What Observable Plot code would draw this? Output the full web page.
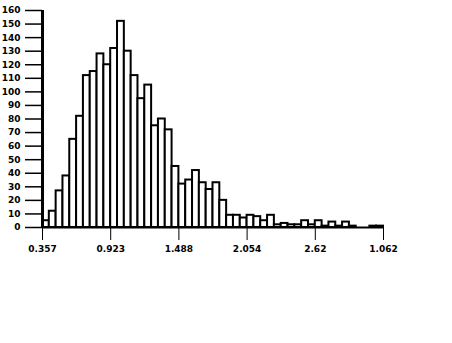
<!DOCTYPE html>
<html>
<head>
<meta charset="utf-8">
<script src="https://cdn.jsdelivr.net/npm/d3@7"></script>
<script src="https://cdn.jsdelivr.net/npm/@observablehq/plot@0.6"></script>
<style>
  html, body { margin: 0; padding: 0; background: #fff; }
  svg { display: block; }
</style>
</head>
<body>
<div id="chart"></div>
<script>
// Histogram bin counts (50 bins)
const counts = [5,12,27,38,65, 82,112,115,128,120, 132,152,130,112,95, 105,75,80,72,45,
                32,35,42,33,28, 33,20,9,9,7, 9,8,5,9,2, 3,2,2,5,2, 5,1,4,1,4, 1,0,0,1,1];
// X tick positions (bin index) and their labels as printed
const xTickBins = [0, 10, 20, 30, 40, 50];
const xTickLabels = ["0.357", "0.923", "1.488", "2.054", "2.62", "1.062"];
// Y ticks
const yTicks = [0,10,20,30,40,50,60,70,80,90,100,110,120,130,140,150,160];

const data = counts.map((c, i) => ({bin: i, count: c}));

const chart = Plot.plot({
  width: 452,
  height: 343,
  marginLeft: 42,
  marginRight: 69,
  marginTop: 10,
  marginBottom: 116,
  x: {domain: [0, 50], axis: null},
  y: {domain: [0, 160], axis: null},
  style: {fontFamily: "DejaVu Sans", fontSize: "9px", background: "white", color: "black"},
  marks: [
    Plot.rectY(data, {x1: "bin", x2: d => d.bin + 1, y: "count", fill: "white", stroke: "black", strokeWidth: 2}),
    Plot.axisY({ticks: yTicks, tickSize: 17, tickPadding: 5, strokeWidth: 1.5, label: null, fontWeight: "bold", fontSize: 9}),
    Plot.axisX({ticks: xTickBins, tickSize: 13, tickPadding: 5, tickFormat: (d, i) => xTickLabels[i], label: null, fontWeight: "bold", fontSize: 9}),
    Plot.ruleX([0], {stroke: "black", strokeWidth: 3}),
    Plot.ruleY([0], {stroke: "black", strokeWidth: 2})
  ]
});
document.getElementById("chart").appendChild(chart);
</script>
</body>
</html>
